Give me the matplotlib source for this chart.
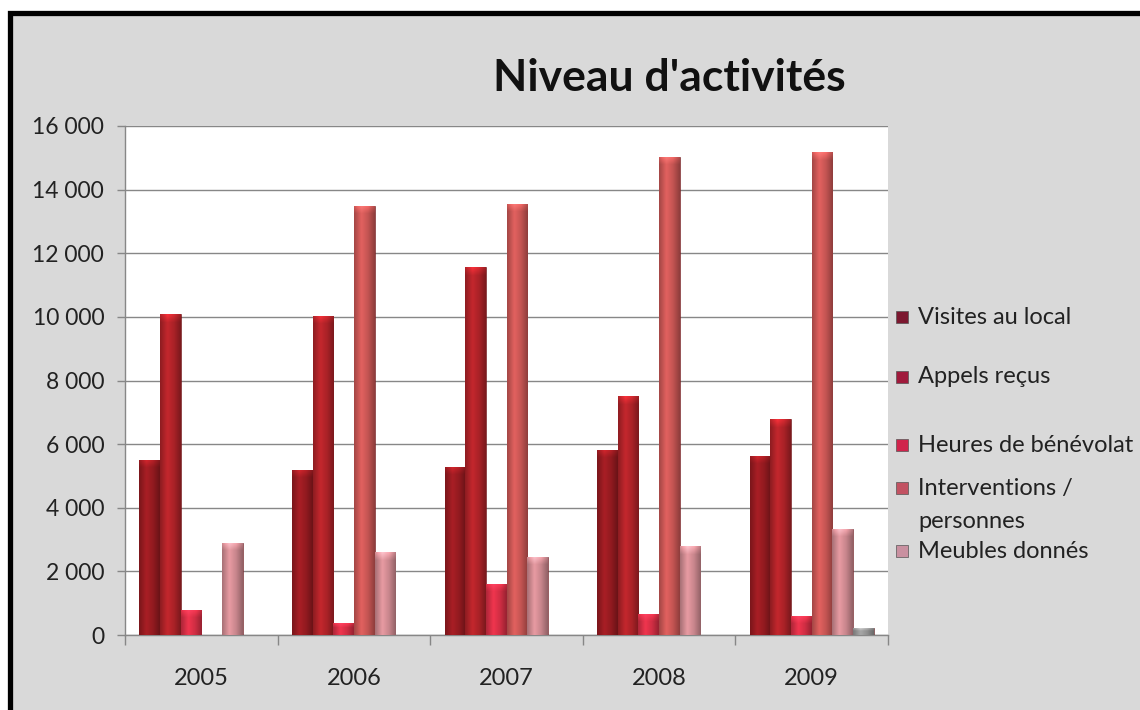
"""Niveau d'activités: grouped bar chart, Excel 2007 style, saved to out.png."""

import matplotlib
matplotlib.use("Agg")
import matplotlib.pyplot as plt
import matplotlib.patches as mpatches
import matplotlib.ticker as ticker
import numpy as np
from matplotlib.colors import to_rgb

YEARS = ["2005", "2006", "2007", "2008", "2009"]

SERIES_NAMES = [
    "Visites au local",
    "Appels reçus",
    "Heures de bénévolat",
    "Interventions /\npersonnes",
    "Meubles donnés",
    None,  # sixth series, not shown in the legend
]

VISITES = [5500, 5200, 5280, 5820, 5620]
APPELS = [10080, 10040, 11560, 7500, 6780]
HEURES = [790, 390, 1600, 660, 600]
INTERVENTIONS = [0, 13500, 13560, 15040, 15170]
MEUBLES = [2890, 2600, 2460, 2790, 3330]
AUTRE = [0, 0, 0, 0, 220]

Y_TICKS = [0, 2000, 4000, 6000, 8000, 10000, 12000, 14000, 16000]

BAR_COLORS = ["#9c1c22", "#b5242a", "#de3148", "#d15a58", "#d68f96", "#9a9a9a"]
LEGEND_COLORS = ["#7c1830", "#a01a3c", "#d0244c", "#c25262", "#c990a0"]

BG = "#d9d9d9"
GRID = "#878787"
FONT = ["Lato", "DejaVu Sans"]

plt.rcParams["font.family"] = FONT

W, H = 1140, 710


def shade(color, factors):
    rgb = np.array(to_rgb(color))
    cols = np.clip(rgb[None, :] * np.asarray(factors)[:, None], 0, 1)
    return cols[None, :, :]


# cylinder-like horizontal profile
PROFILE = np.concatenate([
    np.linspace(0.78, 1.08, 18),
    np.linspace(1.08, 0.95, 14),
    np.linspace(0.95, 0.68, 18),
])

fig = plt.figure(figsize=(W / 100, H / 100), dpi=100, facecolor="white")

# grey chart area with a thick black frame on the top and left
frame = mpatches.Rectangle(
    (9.5 / W, -0.2), 2.0, 1.2 - 13.0 / H,
    transform=fig.transFigure, facecolor=BG, edgecolor="black",
    linewidth=3.8, zorder=-10,
)
fig.add_artist(frame)

ax = fig.add_axes([125 / W, 75 / H, (888 - 125) / W, (635 - 126) / H])
ax.set_facecolor("white")

data = [VISITES, APPELS, HEURES, INTERVENTIONS, MEUBLES, AUTRE]
x = np.arange(len(YEARS))
n = len(data)
bw = 0.135

for i, (vals, col) in enumerate(zip(data, BAR_COLORS)):
    offs = (i - (n - 1) / 2) * bw
    bars = ax.bar(x + offs, vals, width=bw, color=col, edgecolor="#5a1014",
                  linewidth=0.4, zorder=3)
    grad = shade(col, PROFILE)
    # soft lighter cap at the top of each bar
    cap_rgb = shade(col, PROFILE * 1.3)[0]
    cap = np.zeros((8, len(PROFILE), 4))
    cap[:, :, :3] = cap_rgb[None, :, :]
    cap[:, :, 3] = np.linspace(0.9, 0.0, 8)[:, None]
    for b in bars:
        h = b.get_height()
        if h <= 0:
            continue
        x0, x1 = b.get_x(), b.get_x() + b.get_width()
        im = ax.imshow(grad, extent=[x0, x1, 0, h], aspect="auto",
                       interpolation="bicubic", zorder=3.5)
        im.set_clip_path(b)
        ch = min(260, h * 0.4)
        im2 = ax.imshow(cap, extent=[x0, x1, h - ch, h], aspect="auto",
                        interpolation="bilinear", zorder=3.6)
        im2.set_clip_path(b)

ax.set_xlim(-0.5, len(YEARS) - 0.5)
ax.set_ylim(0, 16000)
ax.set_aspect("auto")

ax.set_yticks(Y_TICKS)
ax.yaxis.set_major_formatter(ticker.FuncFormatter(lambda v, p: f"{int(v):,}".replace(",", " ")))
ax.grid(True, axis="y", color=GRID, linewidth=1.0, zorder=1)

ax.set_xticks(x)
ax.set_xticklabels(YEARS)
ax.set_xticks(np.arange(len(YEARS) + 1) - 0.5, minor=True)
ax.tick_params(axis="x", which="major", length=0, pad=24, labelsize=17, colors="#222222")
ax.tick_params(axis="x", which="minor", length=7, width=1, color=GRID)
ax.tick_params(axis="y", length=6, width=1, color=GRID, pad=9, labelsize=16.5, labelcolor="#222222")

for side in ["top", "right"]:
    ax.spines[side].set_visible(False)
for side in ["left", "bottom"]:
    ax.spines[side].set_color(GRID)
    ax.spines[side].set_linewidth(1.0)

fig.text(669 / W, 1 - 78 / H, "Niveau d'activités", ha="center", va="center",
         fontsize=32, fontweight="bold", color="#111111")

# legend, drawn by hand because of the wrapped entry
legend_y = [317, 377, 445, 488, 551]
for name, col, ly in zip(SERIES_NAMES, LEGEND_COLORS, legend_y):
    fig.patches.append(mpatches.Rectangle(
        (896 / W, 1 - (ly + 6) / H), 12 / W, 12 / H,
        transform=fig.transFigure, facecolor=col, edgecolor="#555555",
        linewidth=0.5, figure=fig))
    lines = name.split("\n")
    for k, line in enumerate(lines):
        fig.text(918 / W, 1 - (ly + 34 * k) / H, line, ha="left", va="center",
                 fontsize=17, color="#222222")

fig.savefig("out.png", dpi=100, facecolor=fig.get_facecolor())
